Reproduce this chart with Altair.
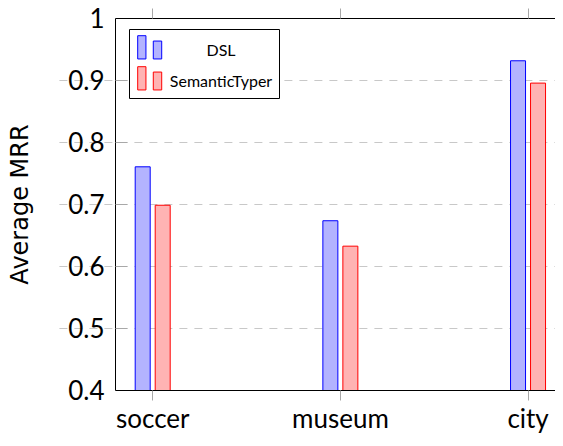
import altair as alt
import pandas as pd

categories = ["soccer", "museum", "city"]
series = ["DSL", "SemanticTyper"]
dsl_values = [0.760, 0.673, 0.931]
st_values = [0.698, 0.632, 0.895]
y_ticks = [0.4, 0.5, 0.6, 0.7, 0.8, 0.9, 1.0]
inner_ticks = [0.5, 0.6, 0.7, 0.8, 0.9]

rows = []
for c, a, b in zip(categories, dsl_values, st_values):
    rows.append({"category": c, "series": series[0], "value": a})
    rows.append({"category": c, "series": series[1], "value": b})
df = pd.DataFrame(rows)

FONT = "Lato"
GRAY = "#a8a8a8"

x_scale = alt.Scale(domain=categories, range=[-56.1, 506.9], paddingInner=0, paddingOuter=0)
y_scale = alt.Scale(domain=[0.4, 1.0], zero=False, nice=False)
xoff_scale = alt.Scale(domain=series, range=[73.8, 113.8], paddingInner=0, paddingOuter=0)

legend_path = "M-0.87,-1H-0.33V0.52H-0.87Z M0.15,-0.65H0.7V0.52H0.15Z"


def make_legend():
    return alt.Legend(title=None, orient="none", legendX=14, legendY=11,
                      symbolType=legend_path, symbolSize=936, symbolStrokeWidth=1,
                      symbolOpacity=1, labelFont=FONT, labelFontSize=16,
                      labelColor="black", labelAlign="center", labelBaseline="middle",
                      labelOffset=54, rowPadding=3, padding=6, strokeColor="black",
                      fillColor="white", labelLimit=300)


bars = alt.Chart(df).mark_bar(width=15, strokeWidth=1, clip=True).encode(
    x=alt.X("category:N", scale=x_scale, sort=categories,
            axis=alt.Axis(orient="bottom", title=None, labelAngle=0, labelFont=FONT,
                          labelFontSize=26, labelColor="black", labelBaseline="alphabetic",
                          labelPadding=27, tickColor=GRAY, tickSize=10, domain=False,
                          grid=False)),
    xOffset=alt.XOffset("series:N", scale=xoff_scale, sort=series),
    y=alt.Y("value:Q", scale=y_scale,
            axis=alt.Axis(orient="left", title="Average MRR", values=y_ticks, format=".1~f",
                          labelFont=FONT, labelFontSize=26, labelColor="black",
                          labelPadding=11, labelOffset=1, ticks=False, domain=False,
                          grid=False, titleFont="DejaVu Sans", titleFontSize=24,
                          titleFontWeight="normal", titleColor="black", titlePadding=35)),
    fill=alt.Fill("series:N", sort=series,
                  scale=alt.Scale(domain=series, range=["#b3b3ff", "#ffb3b3"]),
                  legend=make_legend()),
    stroke=alt.Stroke("series:N", sort=series,
                      scale=alt.Scale(domain=series, range=["#0000ff", "#ff0000"]),
                      legend=make_legend()),
)

top_right = alt.Chart(df).mark_point(opacity=0).encode(
    x=alt.X("category:N", scale=x_scale, sort=categories,
            axis=alt.Axis(orient="top", title=None, labels=False, tickColor=GRAY, tickSize=10,
                          domain=False, grid=False)),
    y=alt.Y("value:Q", scale=y_scale,
            axis=alt.Axis(orient="right", title=None, values=inner_ticks, labels=False,
                          tickColor=GRAY, tickSize=10, domain=False, grid=False, offset=-10)),
)

inner_left = alt.Chart(df).mark_point(opacity=0).encode(
    x=alt.X("category:N", scale=x_scale, sort=categories, axis=None),
    y=alt.Y("value:Q", scale=y_scale,
            axis=alt.Axis(orient="left", title=None, values=inner_ticks, labels=False,
                          tickColor=GRAY, tickSize=12, domain=False, grid=False, offset=-12)),
)

grid = alt.Chart(df).mark_point(opacity=0).encode(
    x=alt.X("category:N", scale=x_scale, sort=categories, axis=None),
    y=alt.Y("value:Q", scale=y_scale,
            axis=alt.Axis(orient="left", title=None, values=inner_ticks, labels=False,
                          ticks=False, domain=False, grid=True, gridColor="#c8c8c8",
                          gridDash=[8, 7], gridWidth=1)),
)

chart = alt.layer(grid, bars, top_right, inner_left).resolve_axis(
    x="independent", y="independent"
).properties(
    width=451, height=372,
    autosize=alt.AutoSizeParams(type="none"),
    padding={"left": 107, "top": 10, "right": -11, "bottom": 43},
    background="white",
).configure_view(stroke="black", strokeWidth=1)

chart.save("out.html", embed_options={"renderer": "svg", "actions": False})
